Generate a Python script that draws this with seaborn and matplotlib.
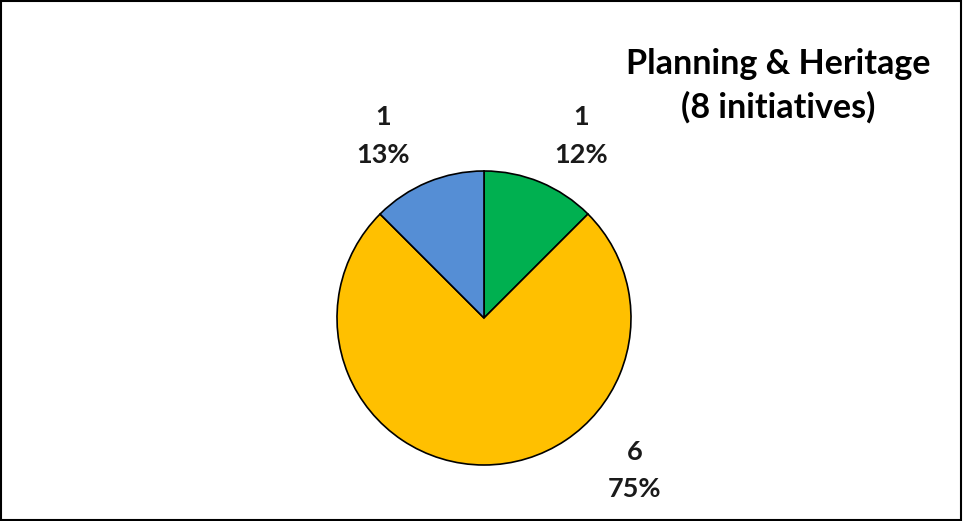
import matplotlib
matplotlib.use('Agg')
import matplotlib.pyplot as plt
import seaborn as sns
from matplotlib.patches import Rectangle

# ---- data ----
categories = ['Green', 'Yellow', 'Blue']
counts = [1, 6, 1]
pct_labels = ['12%', '75%', '13%']
colors = ['#00B050', '#FFC000', '#558ED5']
title = 'Planning & Heritage\n(8 initiatives)'

sns.set_theme(style='white')
plt.rcParams['font.family'] = ['Lato', 'DejaVu Sans']

W, H = 963, 521
fig = plt.figure(figsize=(W / 100, H / 100), dpi=100)
fig.patch.set_facecolor('white')

cx, cy, r = 484, 318, 147
ax = fig.add_axes([(cx - r) / W, (H - cy - r) / H, 2 * r / W, 2 * r / H])
wedges, _ = ax.pie(counts, colors=colors, startangle=90, counterclock=False,
                   radius=1, wedgeprops=dict(edgecolor='black', linewidth=1.2))
ax.set_xlim(-1, 1)
ax.set_ylim(-1, 1)
ax.set_aspect('equal')
ax.axis('off')

# label placement (in units of pie radius), Excel best-fit style
label_pos = [(0.66, 1.238), (1.027, -1.04), (-0.687, 1.238)]
for c, p, (x, y) in zip(counts, pct_labels, label_pos):
    ax.text(x, y, f'{c}\n{p}', ha='center', va='center', fontsize=19.5,
            fontweight='bold', linespacing=1.66, color='#1a1a1a', clip_on=False)

fig.text(778 / W, 1 - 86 / H, title, ha='center', va='center', fontsize=24.5,
         fontweight='bold', linespacing=1.4, color='black', multialignment='center')

fig.patches.append(Rectangle((0.001, 0.002), 0.997, 0.996, transform=fig.transFigure,
                             fill=False, edgecolor='black', linewidth=1.5))

fig.savefig('out.png', dpi=100)
